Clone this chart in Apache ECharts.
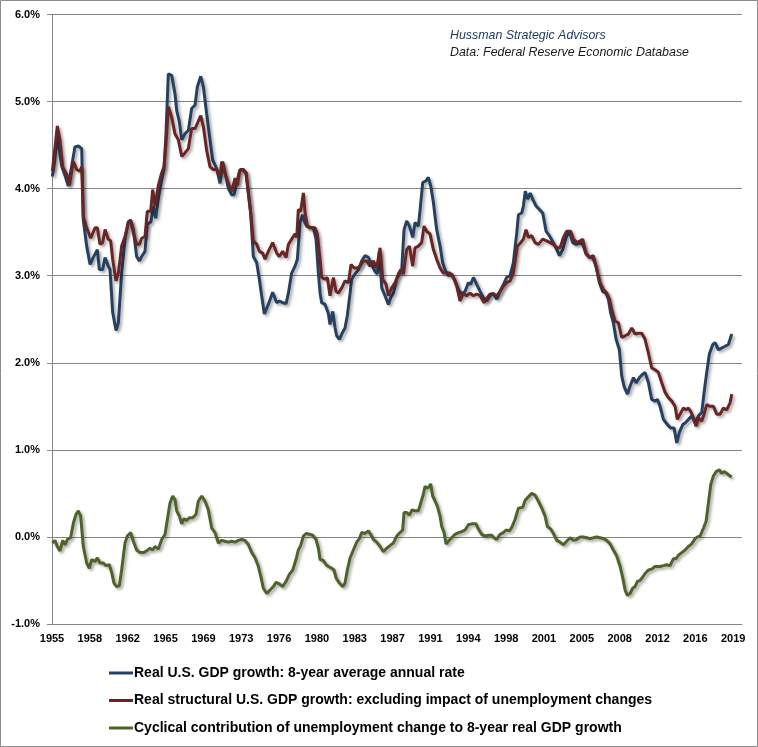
<!DOCTYPE html>
<html><head><meta charset="utf-8">
<script src="https://cdn.jsdelivr.net/npm/echarts@6/dist/echarts.min.js"></script>
<style>html,body{margin:0;padding:0;background:#fff}#c{width:758px;height:747px}</style>
</head><body><div id="c"></div>
<script>
// ---- data (years are fractional, values in %) ----
const seriesNames = [
  'Real U.S. GDP growth: 8-year average annual rate',
  'Real structural U.S. GDP growth: excluding impact of unemployment changes',
  'Cyclical contribution of unemployment change to 8-year real GDP growth'
];
const tickLabels = ['1955','1958','1962','1965','1969','1973','1976','1980','1983','1987','1991','1994','1998','2001','2005','2008','2012','2016','2019'];
const axisStart = 1955 + 2/12;   // first category (Mar 1955)
const tickStepMonths = 43;       // one label every 43 months
const axisEnd = 2020.5;

const gdpYears = [1955.20,1955.40,1955.67,1956.08,1956.40,1956.71,1957.03,1957.34,1957.66,1957.98,1958.13,1958.45,1958.77,1959.08,1959.46,1959.65,1959.96,1960.19,1960.50,1960.66,1960.91,1961.23,1961.45,1961.76,1962.08,1962.40,1962.62,1962.87,1963.18,1963.44,1963.66,1963.97,1964.19,1964.54,1964.76,1964.98,1965.24,1965.55,1965.77,1965.96,1966.18,1966.50,1966.81,1966.97,1967.22,1967.45,1967.76,1968.08,1968.39,1968.71,1968.93,1969.25,1969.50,1969.81,1970.13,1970.38,1970.76,1971.08,1971.33,1971.55,1971.87,1972.18,1972.40,1972.65,1972.91,1973.22,1973.54,1973.76,1973.98,1974.23,1974.55,1974.80,1975.02,1975.27,1975.65,1976.06,1976.44,1976.69,1977.01,1977.33,1977.55,1977.86,1978.18,1978.40,1978.65,1978.90,1979.03,1979.28,1979.60,1979.91,1980.17,1980.39,1980.55,1980.70,1981.02,1981.33,1981.49,1981.75,1981.97,1982.12,1982.38,1982.60,1982.91,1983.13,1983.39,1983.54,1983.86,1984.18,1984.49,1984.81,1985.12,1985.44,1985.75,1985.98,1986.16,1986.39,1986.70,1987.02,1987.24,1987.49,1987.81,1988.06,1988.28,1988.50,1988.75,1989.01,1989.32,1989.54,1989.86,1990.02,1990.27,1990.58,1990.80,1991.03,1991.28,1991.59,1991.91,1992.16,1992.38,1992.70,1993.01,1993.33,1993.65,1993.96,1994.28,1994.59,1994.81,1995.07,1995.38,1995.70,1996.01,1996.33,1996.65,1996.96,1997.28,1997.59,1997.91,1998.22,1998.54,1998.85,1999.17,1999.33,1999.64,1999.80,1999.98,2000.20,2000.45,2000.68,2001.00,2001.32,2001.63,2001.95,2002.26,2002.64,2002.96,2003.21,2003.53,2003.84,2004.16,2004.47,2004.79,2005.10,2005.42,2005.73,2006.05,2006.37,2006.68,2007.00,2007.31,2007.63,2007.85,2008.07,2008.32,2008.58,2008.89,2009.11,2009.33,2009.65,2009.90,2010.22,2010.47,2010.79,2011.10,2011.32,2011.64,2011.95,2012.27,2012.49,2012.74,2013.06,2013.44,2013.75,2014.07,2014.32,2014.57,2014.89,2015.14,2015.43,2015.74,2016.06,2016.37,2016.69,2016.91,2017.16,2017.41,2017.73,2017.95,2018.27,2018.58,2018.90,2019.21,2019.53];
const gdpValues = [4.14,4.30,4.60,4.26,4.15,4.03,4.26,4.48,4.49,4.46,3.64,3.34,3.13,3.21,3.30,3.07,3.07,3.21,3.11,3.07,2.58,2.37,2.46,3.03,3.42,3.62,3.64,3.53,3.22,3.17,3.22,3.28,3.59,3.62,3.80,3.66,3.89,4.10,4.22,4.63,5.32,5.30,5.09,4.90,4.77,4.56,4.63,4.67,4.92,4.96,5.17,5.29,5.17,4.86,4.56,4.33,4.23,4.06,4.31,4.18,4.00,3.93,3.93,4.06,4.20,4.22,4.18,3.95,3.72,3.22,3.15,2.96,2.77,2.56,2.67,2.81,2.69,2.71,2.69,2.68,2.80,3.03,3.11,3.19,3.61,3.70,3.63,3.57,3.55,3.55,3.42,3.03,2.80,2.69,2.67,2.57,2.44,2.59,2.40,2.31,2.27,2.33,2.40,2.54,2.80,2.96,3.02,3.07,3.17,3.23,3.21,3.13,3.05,3.02,3.28,2.86,2.77,2.67,2.75,2.80,2.96,3.02,3.07,3.53,3.63,3.57,3.44,3.61,3.57,3.76,4.07,4.09,4.13,4.03,3.84,3.53,3.34,3.15,3.07,3.00,3.02,2.94,2.84,2.79,2.82,2.92,2.90,2.98,2.90,2.82,2.75,2.71,2.77,2.80,2.73,2.82,2.90,2.98,3.00,3.15,3.49,3.70,3.72,3.80,3.97,3.88,3.95,3.88,3.80,3.76,3.72,3.51,3.46,3.38,3.30,3.23,3.30,3.44,3.51,3.38,3.36,3.38,3.36,3.25,3.21,3.21,3.11,2.92,2.82,2.80,2.73,2.57,2.46,2.27,2.15,1.85,1.73,1.64,1.73,1.83,1.77,1.83,1.87,1.89,1.77,1.58,1.56,1.58,1.50,1.35,1.29,1.25,1.25,1.08,1.20,1.29,1.31,1.35,1.39,1.31,1.39,1.43,1.66,1.89,2.10,2.21,2.23,2.15,2.17,2.19,2.21,2.33];

const structYears = [1955.20,1955.67,1955.92,1956.18,1956.56,1956.81,1957.19,1957.50,1957.82,1957.98,1958.13,1958.45,1958.83,1959.24,1959.46,1959.71,1959.96,1960.19,1960.50,1960.72,1960.91,1961.23,1961.45,1961.76,1962.08,1962.40,1962.62,1962.87,1963.18,1963.44,1963.66,1963.97,1964.19,1964.51,1964.70,1964.92,1965.24,1965.55,1965.77,1965.96,1966.18,1966.50,1966.81,1967.13,1967.45,1967.76,1968.08,1968.39,1968.71,1968.93,1969.25,1969.50,1969.81,1970.13,1970.44,1970.76,1971.08,1971.23,1971.55,1971.87,1972.18,1972.50,1972.72,1972.97,1973.29,1973.54,1973.76,1973.98,1974.23,1974.55,1974.80,1975.11,1975.34,1975.65,1976.06,1976.44,1976.69,1977.01,1977.33,1977.55,1977.86,1978.18,1978.34,1978.49,1978.71,1978.97,1979.13,1979.35,1979.76,1980.07,1980.29,1980.55,1980.70,1981.02,1981.24,1981.49,1981.81,1982.06,1982.28,1982.60,1982.91,1983.23,1983.48,1983.77,1984.08,1984.33,1984.65,1984.96,1985.28,1985.60,1985.91,1986.23,1986.48,1986.80,1987.02,1987.33,1987.65,1987.96,1988.18,1988.44,1988.75,1989.01,1989.32,1989.54,1989.86,1990.17,1990.39,1990.65,1990.96,1991.28,1991.59,1991.91,1992.22,1992.54,1992.86,1993.17,1993.49,1993.80,1994.12,1994.43,1994.75,1995.07,1995.38,1995.70,1996.08,1996.39,1996.65,1996.96,1997.28,1997.59,1997.91,1998.22,1998.54,1998.85,1999.23,1999.49,1999.80,2000.05,2000.27,2000.59,2000.90,2001.22,2001.63,2002.01,2002.33,2002.64,2002.96,2003.27,2003.59,2003.90,2004.28,2004.54,2004.85,2005.17,2005.42,2005.73,2006.05,2006.43,2006.75,2007.06,2007.38,2007.69,2007.95,2008.17,2008.48,2008.80,2009.11,2009.43,2009.74,2010.06,2010.38,2010.69,2011.01,2011.32,2011.64,2011.95,2012.27,2012.58,2012.90,2013.22,2013.53,2013.85,2014.16,2014.38,2014.64,2014.95,2015.20,2015.43,2015.65,2015.90,2016.15,2016.37,2016.69,2016.91,2017.16,2017.48,2017.79,2018.11,2018.42,2018.74,2019.05,2019.37,2019.53];
const structValues = [4.20,4.72,4.56,4.25,4.16,4.04,4.31,4.22,4.20,4.25,3.68,3.55,3.43,3.55,3.55,3.36,3.38,3.53,3.42,3.40,3.19,2.94,3.03,3.34,3.45,3.62,3.62,3.49,3.36,3.36,3.43,3.45,3.74,3.74,3.99,3.80,4.04,4.18,4.25,4.52,4.94,4.82,4.63,4.56,4.37,4.41,4.46,4.69,4.69,4.75,4.84,4.71,4.44,4.25,4.22,4.22,4.14,4.31,4.18,4.06,3.97,4.12,4.04,4.22,4.22,4.18,3.95,3.72,3.40,3.36,3.28,3.26,3.19,3.28,3.38,3.26,3.22,3.28,3.21,3.36,3.42,3.48,3.44,3.76,3.74,3.95,3.72,3.57,3.55,3.55,3.48,3.19,2.98,2.96,2.98,2.77,2.98,2.82,2.80,2.86,2.94,2.92,3.13,3.09,3.09,3.11,3.17,3.17,3.11,3.17,3.09,3.32,2.96,2.90,2.77,2.86,2.92,3.02,3.07,3.02,3.30,3.34,3.11,3.32,3.34,3.38,3.57,3.51,3.48,3.30,3.19,3.09,3.03,3.03,3.03,2.98,2.88,2.71,2.80,2.77,2.80,2.77,2.79,2.77,2.69,2.75,2.79,2.79,2.77,2.82,2.88,2.92,2.94,3.03,3.34,3.37,3.42,3.53,3.44,3.46,3.38,3.36,3.42,3.40,3.38,3.36,3.32,3.32,3.44,3.51,3.51,3.42,3.38,3.40,3.42,3.26,3.21,3.23,3.07,2.92,2.84,2.80,2.73,2.61,2.48,2.46,2.29,2.31,2.33,2.40,2.33,2.34,2.34,2.27,2.11,1.94,1.92,1.89,1.77,1.66,1.60,1.56,1.50,1.35,1.41,1.48,1.46,1.48,1.44,1.37,1.27,1.37,1.33,1.41,1.52,1.50,1.50,1.41,1.41,1.48,1.46,1.54,1.64];

const cycYears = [1955.20,1955.45,1955.67,1955.92,1956.18,1956.40,1956.62,1956.93,1957.19,1957.44,1957.66,1957.88,1958.13,1958.45,1958.70,1958.92,1959.24,1959.46,1959.71,1960.03,1960.28,1960.60,1960.82,1961.04,1961.29,1961.54,1961.76,1962.08,1962.30,1962.62,1962.87,1963.18,1963.50,1963.82,1964.13,1964.45,1964.70,1964.92,1965.24,1965.55,1965.87,1966.09,1966.34,1966.59,1966.81,1966.97,1967.22,1967.45,1967.67,1967.92,1968.17,1968.49,1968.80,1969.02,1969.34,1969.66,1969.97,1970.29,1970.60,1970.92,1971.23,1971.55,1971.87,1972.18,1972.50,1972.81,1973.13,1973.44,1973.76,1974.08,1974.39,1974.71,1974.93,1975.18,1975.50,1975.81,1976.13,1976.38,1976.69,1977.01,1977.33,1977.64,1977.96,1978.27,1978.49,1978.71,1978.97,1979.22,1979.54,1979.85,1980.17,1980.39,1980.55,1980.86,1981.12,1981.34,1981.65,1981.87,1982.06,1982.38,1982.69,1982.91,1983.13,1983.39,1983.70,1984.02,1984.27,1984.49,1984.81,1985.12,1985.34,1985.60,1985.91,1986.23,1986.54,1986.86,1987.17,1987.49,1987.81,1988.12,1988.37,1988.50,1988.75,1989.00,1989.26,1989.54,1989.86,1990.08,1990.33,1990.49,1990.71,1990.90,1991.02,1991.21,1991.44,1991.66,1991.91,1992.07,1992.29,1992.48,1992.70,1993.01,1993.33,1993.65,1993.96,1994.28,1994.59,1994.91,1995.32,1995.54,1995.85,1996.17,1996.49,1996.80,1997.02,1997.27,1997.59,1997.91,1998.16,1998.48,1998.70,1999.01,1999.33,1999.74,1999.96,2000.27,2000.59,2000.91,2001.22,2001.54,2001.85,2002.07,2002.39,2002.64,2002.96,2003.27,2003.59,2003.90,2004.22,2004.54,2004.85,2005.17,2005.48,2005.80,2006.11,2006.43,2006.74,2007.06,2007.38,2007.69,2008.01,2008.32,2008.64,2008.96,2009.21,2009.43,2009.65,2009.90,2010.15,2010.37,2010.60,2010.85,2011.10,2011.32,2011.64,2011.95,2012.27,2012.43,2012.74,2013.06,2013.37,2013.69,2014.01,2014.26,2014.48,2014.79,2015.11,2015.43,2015.74,2016.06,2016.28,2016.53,2016.85,2017.10,2017.32,2017.54,2017.79,2018.05,2018.36,2018.58,2018.80,2019.05,2019.37,2019.53];
const cycValues = [-0.07,-0.04,-0.11,-0.16,-0.04,-0.09,-0.03,-0.01,0.16,0.26,0.30,0.24,-0.11,-0.30,-0.36,-0.26,-0.28,-0.24,-0.30,-0.30,-0.33,-0.32,-0.41,-0.53,-0.57,-0.56,-0.38,-0.07,0.01,0.05,-0.05,-0.15,-0.18,-0.18,-0.16,-0.13,-0.15,-0.11,-0.14,-0.03,0.03,0.20,0.39,0.47,0.43,0.30,0.24,0.15,0.21,0.19,0.22,0.22,0.26,0.41,0.47,0.41,0.31,0.10,0.05,-0.07,-0.04,-0.05,-0.06,-0.05,-0.06,-0.04,-0.03,-0.04,-0.09,-0.18,-0.24,-0.34,-0.45,-0.59,-0.65,-0.61,-0.57,-0.52,-0.54,-0.57,-0.51,-0.43,-0.38,-0.26,-0.15,-0.10,0.01,0.04,0.03,0.02,-0.03,-0.13,-0.26,-0.27,-0.32,-0.34,-0.36,-0.38,-0.47,-0.53,-0.57,-0.53,-0.38,-0.24,-0.15,-0.06,-0.02,0.05,0.04,0.07,0.03,-0.03,-0.06,-0.11,-0.17,-0.13,-0.10,-0.07,0.01,0.05,0.08,0.28,0.28,0.25,0.31,0.30,0.30,0.39,0.49,0.58,0.56,0.58,0.61,0.47,0.41,0.35,0.24,0.12,0.05,-0.08,-0.05,-0.01,0.03,0.05,0.06,0.08,0.14,0.15,0.15,0.09,0.03,0.01,0.02,0.02,-0.01,-0.03,0.03,0.05,0.08,0.07,0.11,0.20,0.33,0.34,0.42,0.46,0.50,0.48,0.41,0.33,0.24,0.12,0.09,0.04,-0.04,-0.06,-0.09,-0.05,-0.01,-0.04,-0.03,0.00,0.00,-0.01,-0.02,-0.01,0.00,-0.01,-0.02,-0.04,-0.08,-0.15,-0.22,-0.34,-0.47,-0.61,-0.67,-0.65,-0.59,-0.57,-0.51,-0.50,-0.46,-0.42,-0.38,-0.37,-0.34,-0.33,-0.34,-0.33,-0.32,-0.33,-0.25,-0.25,-0.21,-0.18,-0.15,-0.11,-0.08,-0.02,0.00,0.01,0.10,0.18,0.39,0.60,0.70,0.75,0.77,0.73,0.75,0.73,0.70,0.69];

const colors = ['#254061', '#6A2424', '#4F6228'];

// ---- build ----
const zip = (xs, ys) => xs.map((x, i) => [x, ys[i]]);
const tickPositions = tickLabels.map((_, k) => axisStart + k * tickStepMonths / 12);
const FONT = '"Liberation Sans", Arial, sans-serif';
const shadow = {shadowColor: 'rgba(0,0,0,0.35)', shadowBlur: 3, shadowOffsetX: 2, shadowOffsetY: 2};

const chart = echarts.init(document.getElementById('c'), null, {renderer: 'canvas'});
chart.setOption({
  animation: false,
  backgroundColor: '#fff',
  textStyle: {fontFamily: FONT},
  grid: {left: 52, right: 16, top: 14.5, bottom: 123, containLabel: false},
  xAxis: {
    type: 'value', min: axisStart, max: axisEnd,
    splitLine: {show: false},
    axisLine: {onZero: false, lineStyle: {color: '#868686', width: 1}},
    axisTick: {show: false},
    axisLabel: {
      customValues: tickPositions,
      formatter: v => { let best = 0, d = 1e9; tickPositions.forEach((p, i) => { if (Math.abs(p - v) < d) { d = Math.abs(p - v); best = i; } }); return tickLabels[best]; },
      color: '#000', fontWeight: 'bold', fontSize: 11, fontFamily: FONT, margin: 9
    }
  },
  yAxis: {
    type: 'value', min: -1, max: 6, interval: 1,
    axisLine: {show: true, lineStyle: {color: '#868686', width: 1}},
    axisTick: {show: true, length: 5, lineStyle: {color: '#868686'}},
    splitLine: {show: true, lineStyle: {color: '#868686', width: 1}},
    axisLabel: {formatter: v => v.toFixed(1) + '%', color: '#000', fontWeight: 'bold', fontSize: 11, fontFamily: FONT, margin: 12}
  },
  legend: {
    orient: 'vertical', left: 104, top: 661,
    icon: 'rect', itemWidth: 24, itemHeight: 3, itemGap: 13.5,
    textStyle: {fontSize: 14, fontWeight: 'bold', color: '#000', fontFamily: FONT, padding: [0, 0, 0, -4]},
    data: seriesNames
  },
  graphic: [
    {type: 'rect', shape: {x: 0.5, y: 0.5, width: 757, height: 746}, style: {fill: 'none', stroke: '#8c8c8c', lineWidth: 1}, silent: true},
    {type: 'text', left: 450, top: 30, style: {text: 'Hussman Strategic Advisors', font: 'italic 12.4px ' + FONT, fill: '#1F3B63'}},
    {type: 'text', left: 450, top: 47, style: {text: 'Data: Federal Reserve Economic Database', font: 'italic 12.4px ' + FONT, fill: '#1a1a1a'}}
  ],
  series: [
    {name: seriesNames[0], type: 'line', data: zip(gdpYears, gdpValues), symbol: 'none', showSymbol: false,
     color: colors[0], lineStyle: Object.assign({width: 3, color: colors[0]}, shadow)},
    {name: seriesNames[1], type: 'line', data: zip(structYears, structValues), symbol: 'none', showSymbol: false,
     color: colors[1], lineStyle: Object.assign({width: 3, color: colors[1]}, shadow)},
    {name: seriesNames[2], type: 'line', data: zip(cycYears, cycValues), symbol: 'none', showSymbol: false,
     color: colors[2], lineStyle: Object.assign({width: 3, color: colors[2]}, shadow)}
  ]
});
</script></body></html>
